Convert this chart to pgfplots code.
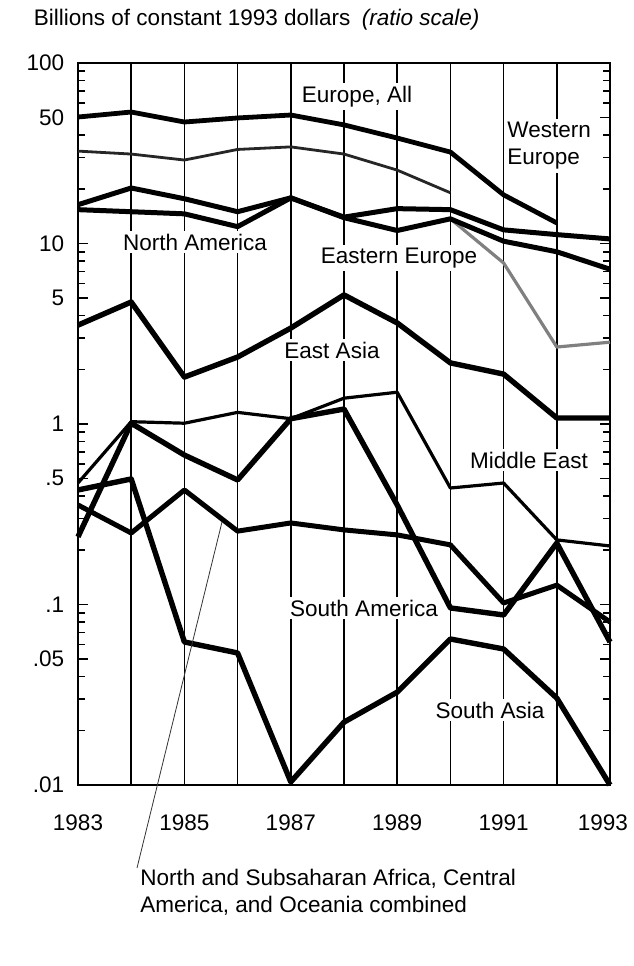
\documentclass[border=0pt]{standalone}
\usepackage{pgfplots}
\pgfplotsset{compat=1.18}
\usepackage{fontspec}
\setmainfont{Liberation Sans}

\begin{document}
\fontsize{11.3}{13.5}\selectfont
\begin{tikzpicture}[lbl/.style={fill=white, inner sep=1.5bp}]
\useasboundingbox (-39bp,-90.5bp) rectangle (278bp,392.5bp);
\begin{axis}[
    at={(0,0)}, anchor=south west,
    scale only axis, width=266bp, height=361bp,
    clip=false,
    ymode=log, ymin=0.01, ymax=100,
    xmin=1983, xmax=1993,
    xtick={1983,...,1993},
    xticklabels={1983,,1985,,1987,,1989,,1991,,{\hspace*{-7bp}1993}},
    xtick style={draw=none},
    xticklabel style={yshift=-11bp},
    xmajorgrids, grid style={black, line width=0.8bp},
    ytick={0.01,0.05,0.1,0.5,1,5,10,50,100},
    yticklabels={.01,.05,.1,.5,1,5,10,50,100},
    minor ytick={0.02,0.03,0.04,0.06,0.07,0.08,0.09,0.2,0.3,0.4,0.6,0.7,0.8,0.9,2,3,4,6,7,8,9,20,30,40,60,70,80,90},
    ytick pos=both, yticklabel pos=left,
    ytick align=inside,
    major tick length=5bp, minor tick length=3.5bp,
    ytick style={black, line width=0.8bp},
    yticklabel style={xshift=-3bp},
    axis line style={line width=1.3bp},
    every axis plot/.append style={line join=round},
]
% Europe, All
\addplot[black, line width=2.4bp] coordinates {
(1983,50.2) (1984,53.5) (1985,47.1) (1986,49.6) (1987,51.5) (1988,45.4)
(1989,38.4) (1990,32.1) (1991,18.6) (1992,13.0)};
% Eastern Europe
\addplot[black!85, line width=1.4bp] coordinates {
(1983,32.5) (1984,31.3) (1985,29.0) (1986,33.2) (1987,34.3) (1988,31.3)
(1989,25.5) (1990,19.1)};
\addplot[black!50, line width=1.6bp] coordinates {
(1990,13.7) (1991,7.8) (1992,2.67) (1993,2.84)};
% North America / Western Europe
\addplot[black, line width=2.5bp] coordinates {
(1983,16.4) (1984,20.3) (1985,17.7) (1986,15.0) (1987,17.9) (1988,14.0)
(1989,15.6) (1990,15.4) (1991,11.9) (1992,11.2) (1993,10.6)};
\addplot[black, line width=2.5bp] coordinates {
(1983,15.4) (1984,15.0) (1985,14.6) (1986,12.4) (1987,17.9) (1988,13.9)
(1989,11.8) (1990,13.7) (1991,10.3) (1992,9.0) (1993,7.2)};
% East Asia
\addplot[black, line width=2.7bp] coordinates {
(1983,3.53) (1984,4.74) (1985,1.82) (1986,2.35) (1987,3.40) (1988,5.19)
(1989,3.63) (1990,2.18) (1991,1.89) (1992,1.08) (1993,1.08)};
% Middle East
\addplot[black, line width=1.6bp] coordinates {
(1983,0.471) (1984,1.03) (1985,1.01) (1986,1.16) (1987,1.07) (1988,1.39)
(1989,1.50) (1990,0.442) (1991,0.471) (1992,0.228) (1993,0.211)};
% South America
\addplot[black, line width=2.7bp] coordinates {
(1983,0.237) (1984,1.01) (1985,0.673) (1986,0.490) (1987,1.07) (1988,1.21)
(1989,0.356) (1990,0.0957) (1991,0.0875) (1992,0.219) (1993,0.062)};
% Africa, Central America, Oceania
\addplot[black, line width=2.5bp] coordinates {
(1983,0.356) (1984,0.249) (1985,0.431) (1986,0.255) (1987,0.283) (1988,0.259)
(1989,0.243) (1990,0.214) (1991,0.102) (1992,0.128) (1993,0.080)};
% South Asia
\addplot[black, line width=2.7bp] coordinates {
(1983,0.431) (1984,0.496) (1985,0.062) (1986,0.0539) (1987,0.0104) (1988,0.0223)
(1989,0.0327) (1990,0.0644) (1991,0.0567) (1992,0.0303) (1993,0.0100)};
\end{axis}
\node[anchor=west] at (-26bp,382.5bp) {Billions of constant 1993 dollars\enspace\textit{(ratio scale)}};
\node[lbl] at (139.5bp,344bp) {Europe, All};
\node[lbl, anchor=west, align=left] at (213bp,319.5bp) {Western\\Europe};
\node[lbl] at (58.5bp,271.5bp) {North America};
\node[lbl] at (160.5bp,263.5bp) {Eastern Europe};
\node[lbl] at (127bp,217.5bp) {East Asia};
\node[lbl] at (225.5bp,162.5bp) {Middle East};
\node[lbl] at (143bp,88.5bp) {South America};
\node[lbl] at (206bp,37.5bp) {South Asia};
\draw[black!80, line width=0.4bp] (29.5bp,-41.5bp) -- (72bp,131.5bp);
\node[anchor=north west, align=left, inner sep=0pt] at (31bp,-42bp)
  {North and Subsaharan Africa, Central\\America, and Oceania combined};
\end{tikzpicture}
\end{document}
